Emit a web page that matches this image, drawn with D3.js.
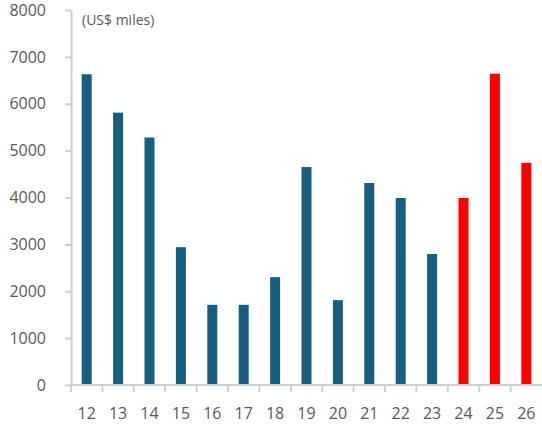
<!DOCTYPE html>
<html>
<head>
<meta charset="utf-8">
<script src="https://cdn.jsdelivr.net/npm/d3@7/dist/d3.min.js"></script>
<style>
  html, body { margin: 0; padding: 0; background: #ffffff; }
  svg { display: block; font-family: "Open Sans", "Noto Sans", sans-serif; }
</style>
</head>
<body>
<svg id="chart" width="542" height="429"></svg>
<script>
// Years (two-digit) and values in US$ millions
const years = ["12","13","14","15","16","17","18","19","20","21","22","23","24","25","26"];
const values = [6630, 5810, 5280, 2940, 1710, 1710, 2300, 4650, 1810, 4310, 3990, 2795, 3990, 6640, 4740];
// Projected years drawn in red
const projected = ["24","25","26"];
const yTicks = [0, 1000, 2000, 3000, 4000, 5000, 6000, 7000, 8000];
const unitLabel = "(US$ miles)";

const svg = d3.select("#chart");
const margin = { left: 71, right: 0, top: 10, bottom: 44 };
const W = 542, H = 429;

const x = d3.scaleBand().domain(years).range([margin.left, W - margin.right]).padding(0);
const y = d3.scaleLinear().domain([0, 8000]).range([H - margin.bottom, margin.top]);

const axisColor = "#d0d0d0";
const textColor = "#595959";
const barW = 10;

// Bars
svg.append("g").selectAll("rect")
  .data(years.map((d, i) => ({ year: d, value: values[i] })))
  .join("rect")
  .attr("x", d => x(d.year) + x.bandwidth() / 2 - barW / 2)
  .attr("width", barW)
  .attr("y", d => y(d.value))
  .attr("height", d => y(0) - y(d.value))
  .attr("fill", d => projected.includes(d.year) ? "#ff0000" : "#175e80");

// Y axis
const yAxis = svg.append("g")
  .attr("transform", `translate(${margin.left},0)`)
  .call(d3.axisLeft(y).tickValues(yTicks).tickSize(6).tickSizeOuter(0).tickPadding(19).tickFormat(d3.format("d")));
yAxis.select(".domain").attr("stroke", axisColor).attr("stroke-width", 2);
yAxis.selectAll(".tick line").attr("stroke", axisColor).attr("stroke-width", 2);
yAxis.selectAll(".tick text").attr("fill", textColor).attr("font-size", 16)
  .attr("font-family", "\"Open Sans\", sans-serif");

// X axis: ticks at category boundaries
const xAxisG = svg.append("g").attr("transform", `translate(0,${y(0)})`);
xAxisG.append("line")
  .attr("x1", margin.left).attr("x2", W)
  .attr("stroke", axisColor).attr("stroke-width", 2);
xAxisG.selectAll("line.tick")
  .data(years)
  .join("line")
  .attr("class", "tick")
  .attr("x1", d => x(d)).attr("x2", d => x(d))
  .attr("y1", 0).attr("y2", 7)
  .attr("stroke", axisColor).attr("stroke-width", 2);
xAxisG.selectAll("text")
  .data(years)
  .join("text")
  .attr("x", d => x(d) + x.bandwidth() / 2)
  .attr("y", 34)
  .attr("text-anchor", "middle")
  .attr("fill", textColor)
  .attr("font-size", 16)
  .text(d => d);

// Unit label
svg.append("text")
  .attr("x", 82).attr("y", 25)
  .attr("fill", textColor)
  .attr("font-size", 14)
  .text(unitLabel);
</script>
</body>
</html>
